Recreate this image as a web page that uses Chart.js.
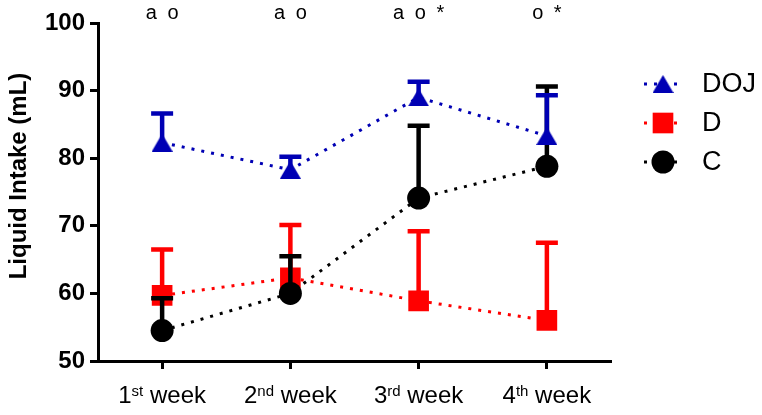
<!DOCTYPE html>
<html>
<head>
<meta charset="utf-8">
<script src="https://cdn.jsdelivr.net/npm/chart.js@4.4.0/dist/chart.umd.min.js"></script>
<style>
html, body { margin: 0; padding: 0; background: #fff; }
#wrap { width: 762px; height: 415px; position: relative; }
</style>
</head>
<body>
<div id="wrap"><canvas id="chart"></canvas></div>
<script>
// week labels are drawn as number + superscript suffix
var weekNumbers = ['1', '2', '3', '4'];
var weekSuffixes = ['st', 'nd', 'rd', 'th'];
var sigLabels = ['a o', 'a o', 'a o *', 'o *'];

// group means and the upward error (SEM)
var dojMean = [82.3, 78.3, 89.0, 83.3];
var dojSem = [4.3, 1.9, 2.3, 6.0];
var dMean = [59.7, 62.3, 58.9, 56.0];
var dSem = [6.8, 7.8, 10.3, 11.5];
var cMean = [54.5, 60.0, 74.1, 78.8];
var cSem = [4.8, 5.5, 10.7, 11.8];

var yMin = 50, yMax = 100, yStep = 10;
var yTitle = 'Liquid Intake (mL)';

var FONT = '"Liberation Sans", Arial, Helvetica, sans-serif';
var BLUE = '#0000b4';
var RED = '#ff0000';
var BLACK = '#000000';

function triangleImage(color, w, h) {
	var c = document.createElement('canvas');
	c.width = w;
	c.height = h;
	var g = c.getContext('2d');
	g.fillStyle = color;
	g.beginPath();
	g.moveTo(w / 2, 0);
	g.lineTo(w, h);
	g.lineTo(0, h);
	g.closePath();
	g.fill();
	return c;
}

var triangle = triangleImage(BLUE, 21, 18);

function drawMarker(ctx, ds, x, y) {
	ctx.fillStyle = ds.pointBackgroundColor;
	if (ds.pointStyle === 'rect') {
		var s = ds.pointRadius * Math.SQRT1_2;
		ctx.fillRect(x - s, y - s, 2 * s, 2 * s);
	} else if (ds.pointStyle === 'circle') {
		ctx.beginPath();
		ctx.arc(x, y, ds.pointRadius, 0, Math.PI * 2);
		ctx.fill();
	} else {
		ctx.drawImage(ds.pointStyle, x - ds.pointStyle.width / 2, y - ds.pointStyle.height / 2);
	}
}

var errorBars = {
	id: 'errorBars',
	beforeDatasetDraw: function (chart, args) {
		var ds = chart.data.datasets[args.index];
		if (!ds.sem) return;
		var yScale = chart.scales.y;
		var ctx = chart.ctx;
		ctx.save();
		ctx.strokeStyle = ds.borderColor;
		ctx.lineWidth = 4.5;
		args.meta.data.forEach(function (pt, i) {
			var y0 = yScale.getPixelForValue(ds.data[i]);
			var y1 = yScale.getPixelForValue(ds.data[i] + ds.sem[i]);
			ctx.beginPath();
			ctx.moveTo(pt.x, y0);
			ctx.lineTo(pt.x, y1);
			ctx.moveTo(pt.x - 11, y1);
			ctx.lineTo(pt.x + 11, y1);
			ctx.stroke();
		});
		ctx.restore();
	}
};

var decorations = {
	id: 'decorations',
	afterDraw: function (chart) {
		var ctx = chart.ctx;
		var xScale = chart.scales.x;
		var area = chart.chartArea;
		ctx.save();
		ctx.fillStyle = BLACK;

		// significance letters above each week
		ctx.font = '20px ' + FONT;
		ctx.textAlign = 'center';
		ctx.textBaseline = 'alphabetic';
		ctx.wordSpacing = '5px';
		sigLabels.forEach(function (label, i) {
			ctx.fillText(label, xScale.getPixelForTick(i), 19);
		});
		ctx.wordSpacing = '0px';

		// x labels with superscripts
		ctx.textAlign = 'left';
		weekNumbers.forEach(function (num, i) {
			var rest = ' week';
			ctx.font = '24px ' + FONT;
			var wNum = ctx.measureText(num).width;
			var wRest = ctx.measureText(rest).width;
			ctx.font = '15px ' + FONT;
			var wSup = ctx.measureText(weekSuffixes[i]).width;
			var x = xScale.getPixelForTick(i) - (wNum + wSup + wRest) / 2;
			var base = area.bottom + 42;
			ctx.font = '24px ' + FONT;
			ctx.fillText(num, x, base);
			ctx.font = '15px ' + FONT;
			ctx.fillText(weekSuffixes[i], x + wNum, base - 7);
			ctx.font = '24px ' + FONT;
			ctx.fillText(rest, x + wNum + wSup, base);
		});

		// y axis title
		ctx.save();
		ctx.translate(26, 176);
		ctx.rotate(-Math.PI / 2);
		ctx.font = 'bold 24px ' + FONT;
		ctx.textAlign = 'center';
		ctx.fillText(yTitle, 0, 0);
		ctx.restore();

		// legend: DOJ, D, C
		var order = [0, 2, 1];
		order.forEach(function (idx, row) {
			var ds = chart.data.datasets[idx];
			var y = 84 + row * 39;
			ctx.save();
			ctx.strokeStyle = ds.borderColor;
			ctx.lineWidth = 3;
			ctx.setLineDash([3, 7]);
			ctx.beginPath();
			ctx.moveTo(644, y);
			ctx.lineTo(684, y);
			ctx.stroke();
			ctx.restore();
			drawMarker(ctx, ds, 663, y);
			ctx.fillStyle = BLACK;
			ctx.font = '27px ' + FONT;
			ctx.textAlign = 'left';
			ctx.textBaseline = 'middle';
			ctx.fillText(ds.label, 702, y + 1);
		});
		ctx.restore();
	}
};

function series(label, mean, sem, color, style, radius, order) {
	return {
		label: label,
		data: mean,
		sem: sem,
		order: order,
		borderColor: color,
		backgroundColor: color,
		borderWidth: 3,
		borderDash: [3, 7],
		fill: false,
		tension: 0,
		pointStyle: style,
		pointRadius: radius,
		pointHoverRadius: radius,
		pointBackgroundColor: color,
		pointBorderWidth: 0
	};
}

new Chart(document.getElementById('chart'), {
	type: 'line',
	data: {
		labels: weekNumbers.map(function (n, i) { return n + weekSuffixes[i] + ' week'; }),
		datasets: [
			series('DOJ', dojMean, dojSem, BLUE, triangle, 10, 1),
			series('C', cMean, cSem, BLACK, 'circle', 11.5, 2),
			series('D', dMean, dSem, RED, 'rect', 14.6, 3)
		]
	},
	plugins: [errorBars, decorations],
	options: {
		responsive: true,
		maintainAspectRatio: false,
		animation: false,
		events: [],
		layout: { padding: { top: 23, right: 151, left: 0, bottom: 0 } },
		plugins: {
			legend: { display: false },
			tooltip: { enabled: false }
		},
		scales: {
			x: {
				offset: true,
				grid: { offset: false, drawOnChartArea: false, tickLength: 8, tickWidth: 3, tickColor: BLACK },
				border: { display: true, color: BLACK, width: 3 },
				ticks: { color: 'rgba(0,0,0,0)', font: { size: 24, family: FONT } },
				afterFit: function (scale) { scale.height = 54; }
			},
			y: {
				min: yMin,
				max: yMax,
				grid: { drawOnChartArea: false, tickLength: 8, tickWidth: 3, tickColor: BLACK },
				border: { display: true, color: BLACK, width: 3 },
				ticks: {
					stepSize: yStep,
					padding: 5,
					color: BLACK,
					font: { size: 24, weight: 'bold', family: FONT }
				},
				afterFit: function (scale) { scale.width = 98; }
			}
		}
	}
});
</script>
</body>
</html>
